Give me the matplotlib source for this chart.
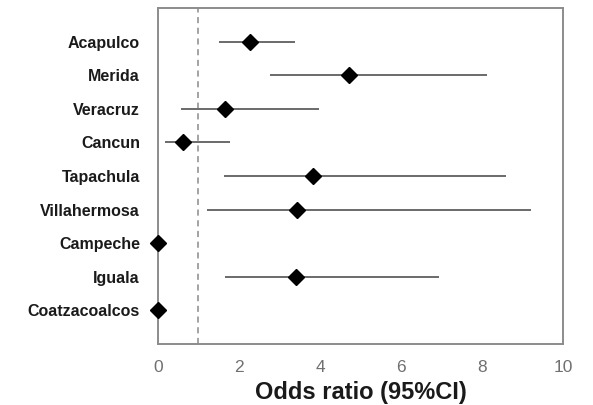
import matplotlib
matplotlib.use("Agg")
import matplotlib.pyplot as plt
import numpy as np

cities = ["Acapulco", "Merida", "Veracruz", "Cancun", "Tapachula",
          "Villahermosa", "Campeche", "Iguala", "Coatzacoalcos"]
odds = [2.27, 4.72, 1.65, 0.62, 3.83, 3.43, 0.0, 3.40, 0.0]
ci_low = [1.51, 2.77, 0.57, 0.17, 1.63, 1.21, 0.0, 1.65, 0.0]
ci_high = [3.38, 8.12, 3.97, 1.78, 8.59, 9.21, 0.0, 6.94, 0.0]
x_ticks = [0, 2, 4, 6, 8, 10]

plt.rcParams["font.family"] = ["Liberation Sans", "DejaVu Sans"]

fig = plt.figure(figsize=(5.93, 4.05), dpi=100)
ax = fig.add_axes([0.2664, 0.1506, 0.683, 0.8294])

ypos = np.arange(1, len(cities) + 1)
ax.hlines(ypos, ci_low, ci_high, color="#6a6a6a", lw=1.4, zorder=2)
ax.plot(odds, ypos, "D", color="black", markersize=8, zorder=3, clip_on=False)
ax.axvline(1, color="#8a8a8a", lw=1.1, ls=(0, (4, 3)), zorder=1)

ax.set_xlim(0, 10)
ax.set_ylim(len(cities) + 1, 0)
ax.set_xticks(x_ticks)
ax.set_xticklabels([str(t) for t in x_ticks], color="#707070", fontsize=12.5)
ax.set_yticks(ypos)
ax.set_yticklabels(cities, fontsize=11.5, fontweight="bold", color="#1a1a1a")
ax.tick_params(axis="both", length=0)
ax.tick_params(axis="x", pad=11.5)
ax.tick_params(axis="y", pad=13)
for s in ax.spines.values():
    s.set_color("#8c8c8c")
    s.set_linewidth(1.4)

ax.set_xlabel("Odds ratio (95%CI)", fontsize=17, fontweight="bold",
              color="#1a1a1a", labelpad=4)

fig.savefig("out.png", dpi=100)
